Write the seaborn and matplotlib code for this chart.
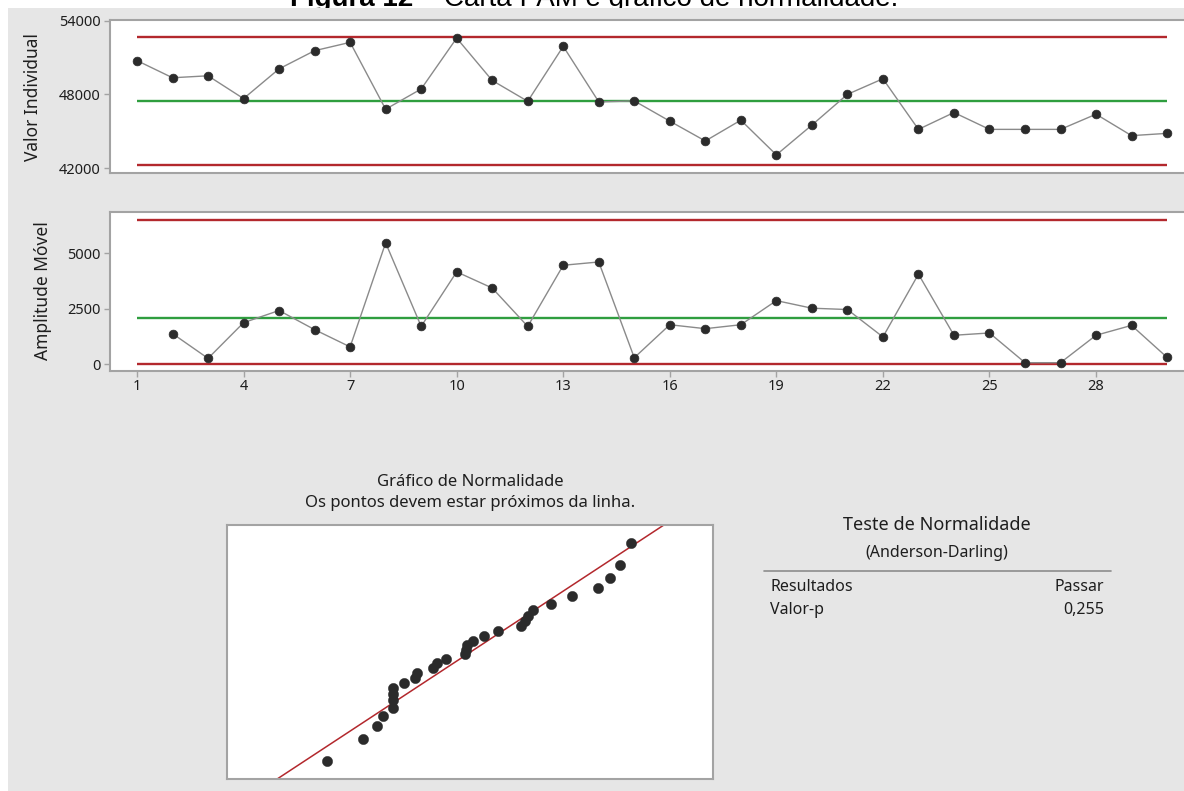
import matplotlib
matplotlib.use("Agg")
import matplotlib.pyplot as plt
import seaborn as sns
import numpy as np
import pandas as pd
from statistics import NormalDist
from matplotlib.patches import Rectangle

# ---------------- data ----------------
obs = list(range(1, 31))
individual = [50746, 49350, 49510, 47653, 50075, 51553, 52231, 46789, 48436, 52578,
              49130, 47435, 51908, 47386, 47467, 45820, 44205, 45900, 43074, 45497,
              48000, 49268, 45150, 46522, 45150, 45150, 45150, 46385, 44640, 44826]
mr_obs = list(range(2, 31))
moving_range = [1370, 254, 1862, 2411, 1549, 772, 5460, 1696, 4152, 3424,
                1696, 4450, 4598, 283, 1770, 1592, 1770, 2857, 2515, 2455,
                1220, 4048, 1295, 1399, 60, 60, 1295, 1741, 298]
i_ucl, i_cl, i_lcl = 52700, 47480, 42260
mr_ucl, mr_cl, mr_lcl = 6500, 2060, 0

i_ticks = [42000, 48000, 54000]
mr_ticks = [0, 2500, 5000]
x_ticks = [1, 4, 7, 10, 13, 16, 19, 22, 25, 28]

caption_bold = "Figura 12 \u2013 "
caption_rest = "Carta I-AM e gr\u00e1fico de normalidade."
label_i = "Valor Individual"
label_mr = "Amplitude M\u00f3vel"
norm_title = "Gr\u00e1fico de Normalidade"
norm_sub = "Os pontos devem estar pr\u00f3ximos da linha."
test_title = "Teste de Normalidade"
test_sub = "(Anderson-Darling)"
res_labels = ["Resultados", "Valor-p"]
res_values = ["Passar", "0,255"]

# ---------------- style ----------------
sns.set_theme(style="white")
plt.rcParams["font.family"] = ["Noto Sans", "DejaVu Sans"]

W, H = 1184, 791
fig = plt.figure(figsize=(W / 100, H / 100), dpi=100)
fig.patch.set_facecolor("white")


def fx(px):
    return px / W


def fy(py):
    return 1 - py / H


# gray panel background
fig.add_artist(Rectangle((fx(8), 0), 1 - fx(8), fy(8), transform=fig.transFigure,
                         facecolor="#e6e6e6", edgecolor="none", zorder=-1))

RED = "#b3282d"
GREEN = "#2f9e3f"
PT = "#2b2b2b"
LINE = "#8a8a8a"
SPINE = "#a3a3a3"
TXT = "#1e1e1e"

x_left_px, px_per_unit, x1_px = 110, 35.52, 137
xl = 1 - (x1_px - x_left_px) / px_per_unit
xr = 1 + (1190 - x1_px) / px_per_unit

ax1 = fig.add_axes([fx(110), fy(173), fx(1190 - 110), (173 - 20) / H])
ax2 = fig.add_axes([fx(110), fy(371), fx(1190 - 110), (371 - 212) / H])
ax3 = fig.add_axes([fx(227), fy(779), fx(713 - 227), (779 - 525) / H])

df_i = pd.DataFrame({"obs": obs, "val": individual})
df_mr = pd.DataFrame({"obs": mr_obs, "val": moving_range})

for ax, df, (ucl, cl, lcl) in [(ax1, df_i, (i_ucl, i_cl, i_lcl)),
                                (ax2, df_mr, (mr_ucl, mr_cl, mr_lcl))]:
    ax.set_facecolor("white")
    ax.hlines([ucl, lcl], 1, 30, colors=RED, linewidth=1.7, zorder=1)
    ax.hlines([cl], 1, 30, colors=GREEN, linewidth=1.7, zorder=1)
    sns.lineplot(data=df, x="obs", y="val", ax=ax, color=LINE, linewidth=1.0,
                 marker="o", markersize=6.3, markerfacecolor=PT,
                 markeredgecolor=PT, markeredgewidth=0.5, zorder=3)
    ax.set_xlim(xl, xr)
    ax.set_xlabel("")
    ax.set_ylabel("")
    for s in ax.spines.values():
        s.set_color(SPINE)
        s.set_linewidth(1.5)

ax1.set_ylim(41600, 54050)
ax1.set_yticks(i_ticks)
ax1.set_yticklabels([str(t) for t in i_ticks])
ax1.set_xticks([])
ax2.set_ylim(-315, 6850)
ax2.set_yticks(mr_ticks)
ax2.set_yticklabels([str(t) for t in mr_ticks])
ax2.set_xticks(x_ticks)
ax2.set_xticklabels([str(t) for t in x_ticks])

for ax in (ax1, ax2):
    ax.tick_params(axis="y", direction="out", length=4.5, width=1, color=SPINE,
                   pad=2, labelsize=10.5, labelcolor=TXT, left=True)
ax2.tick_params(axis="x", direction="out", length=4, width=1, color=SPINE,
                pad=1.5, labelsize=10.5, labelcolor=TXT, bottom=True)

fig.text(fx(33), fy(97), label_i, rotation=90, ha="center", va="center",
         fontsize=12.5, color=TXT)
fig.text(fx(43), fy(291), label_mr, rotation=90, ha="center", va="center",
         fontsize=12.5, color=TXT)

# ---------------- normal probability plot ----------------
vals = np.sort(np.array(individual, dtype=float))
n = len(vals)
nd = NormalDist()
zq = np.array([nd.inv_cdf((i - 0.3) / (n + 0.4)) for i in range(1, n + 1)])
mu = vals.mean()
sd = vals.std(ddof=1)

ax3.set_facecolor("white")
xlo, xhi = 39960, 55140
zlim = nd.inv_cdf(0.99)
line_x = np.array([xlo, xhi])
ax3.plot(line_x, (line_x - mu) / sd, color=RED, linewidth=1.1, zorder=1)
sns.scatterplot(x=vals, y=zq, ax=ax3, s=55, color=PT, edgecolor=PT,
                linewidth=0.3, zorder=3)
ax3.set_xlim(xlo, xhi)
ax3.set_ylim(-zlim, zlim)
ax3.set_xticks([])
ax3.set_yticks([])
ax3.set_xlabel("")
ax3.set_ylabel("")
for s in ax3.spines.values():
    s.set_color(SPINE)
    s.set_linewidth(1.5)

fig.text(fx(470), fy(482), norm_title, ha="center", va="center", fontsize=12, color=TXT)
fig.text(fx(470), fy(503), norm_sub, ha="center", va="center", fontsize=12, color=TXT)

# ---------------- test summary ----------------
fig.text(fx(937), fy(525), test_title, ha="center", va="center", fontsize=13, color=TXT)
fig.text(fx(937), fy(553), test_sub, ha="center", va="center", fontsize=11.5, color=TXT)
fig.add_artist(plt.Line2D([fx(764), fx(1111)], [fy(571), fy(571)],
                          transform=fig.transFigure, color="#8c8c8c", linewidth=1.2))
for k, (lab, val) in enumerate(zip(res_labels, res_values)):
    yy = 587 + 23 * k
    fig.text(fx(770), fy(yy), lab, ha="left", va="center", fontsize=11.5, color=TXT)
    fig.text(fx(1104), fy(yy), val, ha="right", va="center", fontsize=11.5, color=TXT)

# ---------------- cut-off caption at the very top ----------------
t1 = fig.text(fx(290), fy(6.5), caption_bold, ha="left", va="baseline",
              fontsize=20, fontweight="bold", color="black",
              family=["Liberation Sans", "DejaVu Sans"], zorder=-2)
fig.canvas.draw()
bb = t1.get_window_extent()
fig.text(bb.x1 / W, fy(6.5), caption_rest, ha="left", va="baseline",
         fontsize=20, color="black", family=["Liberation Sans", "DejaVu Sans"], zorder=-2)

fig.savefig("out.png", dpi=100)
